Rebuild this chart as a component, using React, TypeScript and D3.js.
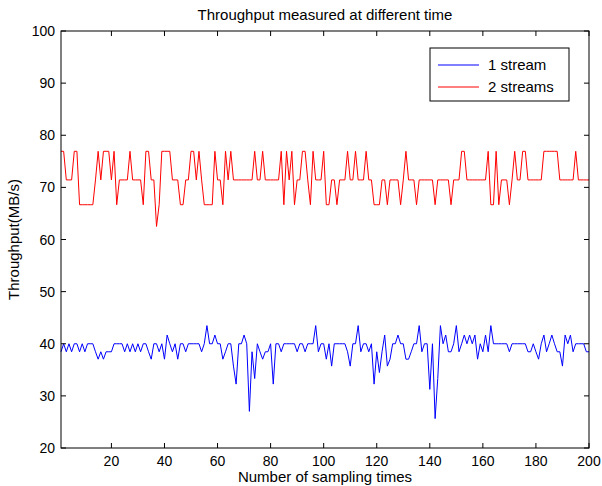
import React from "react";
import * as d3 from "d3";

const T = 76.92, M = 71.43, B = 66.67, L = 62.5;

const stream2: number[] = [
  T, T, M, M, M, T, T, B, B, B, B, B, B, M, T, M, T, T, T, M,
  T, B, M, M, M, M, T, M, M, M, M, B, T, T, M, M, L, B, T, T,
  T, T, M, M, M, B, B, M, M, T, T, M, T, M, B, B, B, B, T, M,
  M, B, T, M, T, M, M, M, M, M, M, M, M, T, M, M, T, M, M, M,
  M, M, M, T, B, T, M, T, B, M, M, T, T, M, B, T, M, M, M, T,
  B, B, M, M, B, M, M, M, T, M, M, T, M, M, M, T, M, M, B, B,
  B, M, M, B, M, M, M, M, B, M, T, M, M, M, B, M, M, M, M, M,
  M, B, M, M, M, M, M, B, M, M, M, T, T, M, M, M, M, M, M, M,
  M, T, B, B, T, B, M, M, M, B, M, T, M, M, T, T, M, M, M, M,
  M, M, T, T, T, T, T, T, M, M, M, M, M, M, T, M, M, M, M, M,
];

const stream1: number[] = [
  38.46, 40, 38.46, 40, 38.46, 40, 40, 38.46, 40, 38.46,
  40, 40, 40, 38.46, 37.04, 38.46, 37.04, 38.46, 38.46, 38.46,
  40, 40, 40, 40, 38.46, 40, 38.46, 40, 38.46, 40,
  38.46, 40, 40, 38.46, 37.04, 40, 40, 38.46, 40, 37.04,
  41.67, 40, 38.46, 40, 37.04, 40, 40, 38.46, 40, 40,
  40, 40, 40, 38.46, 40, 43.48, 40, 40, 41.67, 40,
  40, 37.04, 38.46, 40, 40, 35.71, 32.26, 40, 40, 41.67,
  40, 27.03, 38.46, 33.33, 40, 38.46, 37.04, 38.46, 38.46, 40,
  32.26, 40, 40, 38.46, 40, 40, 40, 40, 40, 38.46,
  40, 40, 38.46, 40, 40, 40, 43.48, 38.46, 40, 40,
  37.04, 40, 35.71, 40, 40, 40, 40, 40, 38.46, 35.71,
  40, 40, 43.48, 38.46, 40, 40, 38.46, 40, 32.26, 38.46,
  34.48, 38.46, 41.67, 35.71, 37.04, 40, 40, 41.67, 40, 40,
  37.04, 37.04, 38.46, 40, 40, 43.48, 38.46, 40, 40, 31.25,
  40, 25.64, 33.33, 43.48, 40, 41.67, 38.46, 38.46, 40, 43.48,
  38.46, 40, 41.67, 40, 41.67, 40, 41.67, 37.04, 40, 38.46,
  41.67, 38.46, 43.48, 40, 40, 40, 40, 40, 40, 38.46,
  40, 40, 40, 40, 40, 40, 38.46, 38.46, 40, 38.46,
  37.04, 40, 41.67, 38.46, 40, 41.67, 40, 38.46, 38.46, 35.71,
  41.67, 40, 41.67, 38.46, 40, 40, 40, 40, 38.46, 38.46,
];

const xTicks = [20, 40, 60, 80, 100, 120, 140, 160, 180, 200];
const yTicks = [20, 30, 40, 50, 60, 70, 80, 90, 100];
const seriesNames = ["1 stream", "2 streams"];
const seriesColors = ["#0000ff", "#ff0000"];
const title = "Throughput measured at different time";
const xLabel = "Number of sampling times";
const yLabel = "Throughput(MB/s)";

export default function App() {
  const W = 602, H = 486;
  const left = 61, right = 589, top = 31, bottom = 448;
  const x = d3.scaleLinear().domain([1, 200]).range([left, right]);
  const y = d3.scaleLinear().domain([20, 100]).range([bottom, top]);
  const line = d3.line<number>().x((_, i) => x(i + 1)).y((d) => y(d));
  const font = "Liberation Sans, Arial, Helvetica, sans-serif";
  const tl = 5;
  const series = [stream1, stream2];
  const lg = { x: 430, y: 48, w: 139, h: 53 };
  return (
    <svg width={W} height={H} style={{ position: "absolute", left: 0, top: 0, background: "#fff" }}
      fontFamily={font}>
      <rect x={0} y={0} width={W} height={H} fill="#fff" />
      {series.map((s, k) => (
        <path key={k} d={line(s) || ""} fill="none" stroke={seriesColors[k]} strokeWidth={1} />
      ))}
      <rect x={left} y={top} width={right - left} height={bottom - top} fill="none" stroke="#000" strokeWidth={1} />
      {xTicks.map((t) => (
        <g key={"x" + t}>
          <line x1={x(t)} x2={x(t)} y1={bottom} y2={bottom - tl} stroke="#000" />
          <line x1={x(t)} x2={x(t)} y1={top} y2={top + tl} stroke="#000" />
          <text x={x(t)} y={bottom + 18} fontSize={14} textAnchor="middle">{t}</text>
        </g>
      ))}
      {yTicks.map((t) => (
        <g key={"y" + t}>
          <line x1={left} x2={left + tl} y1={y(t)} y2={y(t)} stroke="#000" />
          <line x1={right} x2={right - tl} y1={y(t)} y2={y(t)} stroke="#000" />
          <text x={left - 6} y={y(t) + 5} fontSize={14} textAnchor="end">{t}</text>
        </g>
      ))}
      <text x={(left + right) / 2} y={20} fontSize={15} textAnchor="middle">{title}</text>
      <text x={(left + right) / 2} y={482} fontSize={15} textAnchor="middle">{xLabel}</text>
      <text transform={`translate(19,${(top + bottom) / 2}) rotate(-90)`} fontSize={15} textAnchor="middle">{yLabel}</text>
      <rect x={lg.x} y={lg.y} width={lg.w} height={lg.h} fill="#fff" stroke="#000" />
      {seriesNames.map((n, k) => (
        <g key={n}>
          <line x1={lg.x + 8} x2={lg.x + 49} y1={lg.y + 17 + k * 22} y2={lg.y + 17 + k * 22} stroke={seriesColors[k]} />
          <text x={lg.x + 58} y={lg.y + 22 + k * 22} fontSize={15}>{n}</text>
        </g>
      ))}
    </svg>
  );
}
